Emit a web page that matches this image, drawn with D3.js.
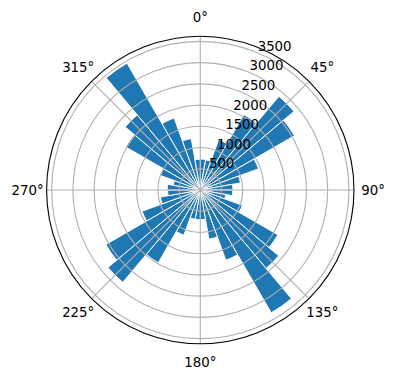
<!DOCTYPE html>
<html>
<head>
<meta charset="utf-8">
<script src="https://cdn.jsdelivr.net/npm/d3@7"></script>
<style>
  body { margin: 0; background: #fff; }
  text { font-family: "DejaVu Sans", sans-serif; font-size: 13.33px; fill: #000; }
</style>
</head>
<body>
<div class="canvas"></div>
<script>
// direction bins (bar centres, degrees from north, clockwise)
const directions = [5, 15, 25, 35, 45, 55, 65, 75, 85,
  95, 105, 115, 125, 135, 145, 155, 165, 175,
  185, 195, 205, 215, 225, 235, 245, 255, 265,
  275, 285, 295, 305, 315, 325, 335, 345, 355];
const counts = [730, 720, 1260, 2050, 2880, 2560, 1460, 960, 770,
  765, 610, 1055, 2110, 2410, 3340, 1760, 1175, 700,
  700, 700, 1130, 1980, 2840, 2570, 1460, 955, 770,
  780, 650, 1000, 2030, 2310, 3450, 1805, 1230, 725];
const binWidth = 10;
const angleTicks = [0, 45, 90, 135, 180, 225, 270, 315];
const radialTicks = [500, 1000, 1500, 2000, 2500, 3000, 3500];
const rMax = 3620;

const width = 396, height = 380;
const cx = 200.3, cy = 190, R = 153.7;

const svg = d3.select('.canvas')
  .append('svg')
  .attr('width', width)
  .attr('height', height);

const graph = svg.append('g')
  .attr('transform', `translate(${cx},${cy})`);

// scales
const r = d3.scaleLinear().domain([0, rMax]).range([0, R]);
const a = d3.scaleLinear().domain([0, 360]).range([0, 2 * Math.PI]);

const arc = d3.arc()
  .innerRadius(0)
  .outerRadius(d => r(d.v))
  .startAngle(d => a(d.dir - binWidth / 2))
  .endAngle(d => a(d.dir + binWidth / 2));

const data = directions.map((dir, i) => ({ dir, v: counts[i] }));

// bars
graph.selectAll('path.bar')
  .data(data)
  .enter()
  .append('path')
  .attr('class', 'bar')
  .attr('d', arc)
  .attr('fill', '#1f77b4')
  .attr('stroke', '#fff')
  .attr('stroke-width', 1);

// grid on top of bars (matplotlib default)
graph.selectAll('circle.ring')
  .data(radialTicks)
  .enter()
  .append('circle')
  .attr('class', 'ring')
  .attr('r', d => r(d))
  .attr('fill', 'none')
  .attr('stroke', '#b0b0b0')
  .attr('stroke-width', 1.1);

graph.selectAll('line.spoke')
  .data(angleTicks)
  .enter()
  .append('line')
  .attr('class', 'spoke')
  .attr('x1', 0).attr('y1', 0)
  .attr('x2', d => R * Math.sin(a(d)))
  .attr('y2', d => -R * Math.cos(a(d)))
  .attr('stroke', '#b0b0b0')
  .attr('stroke-width', 1.1);

// outer frame
graph.append('circle')
  .attr('r', R)
  .attr('fill', 'none')
  .attr('stroke', '#000')
  .attr('stroke-width', 1.1);

// angle labels
const labelR = R + 19;
graph.selectAll('text.theta')
  .data(angleTicks)
  .enter()
  .append('text')
  .attr('class', 'theta')
  .attr('x', d => labelR * Math.sin(a(d)))
  .attr('y', d => -labelR * Math.cos(a(d)))
  .attr('text-anchor', 'middle')
  .attr('dominant-baseline', 'central')
  .text(d => d + '°');

// radial labels at 22.5°
const rLabelAngle = a(22.5);
graph.selectAll('text.rlabel')
  .data(radialTicks)
  .enter()
  .append('text')
  .attr('class', 'rlabel')
  .attr('x', d => r(d) * Math.sin(rLabelAngle) + 0.5)
  .attr('y', d => -r(d) * Math.cos(rLabelAngle) - 2)
  .attr('text-anchor', 'start')
  .text(d => d);
</script>
</body>
</html>
